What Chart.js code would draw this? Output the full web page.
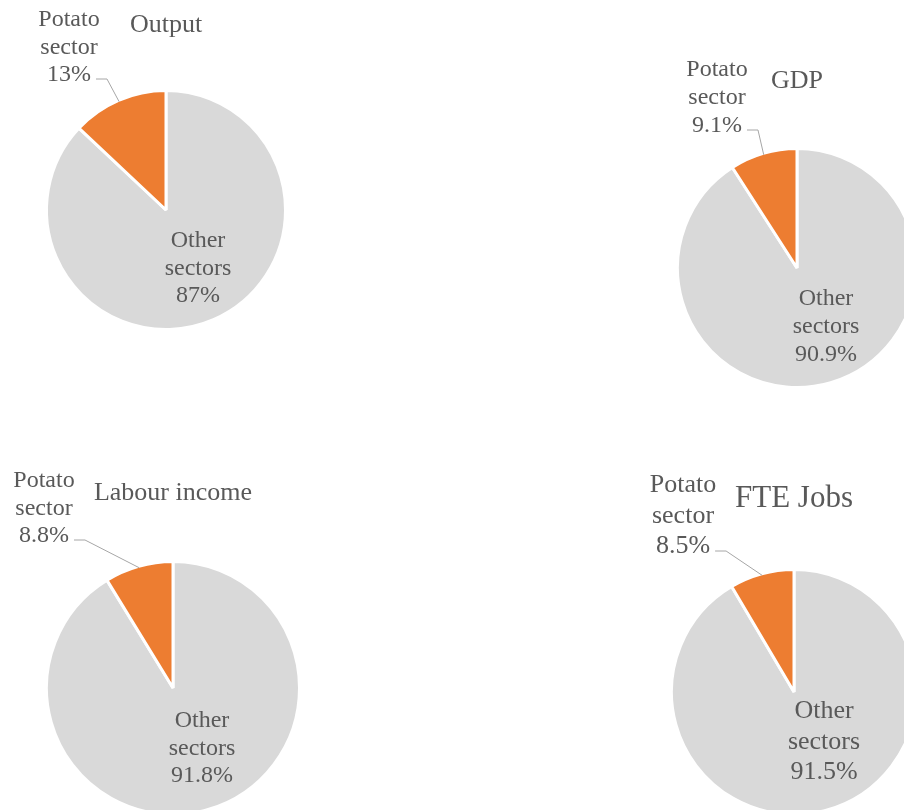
<!DOCTYPE html>
<html>
<head>
<meta charset="utf-8">
<script src="https://cdn.jsdelivr.net/npm/chart.js@4.4.0/dist/chart.umd.min.js"></script>
<style>
  html, body { margin: 0; padding: 0; background: #fff; overflow: hidden; }
  #page { position: relative; width: 904px; height: 810px; }
  canvas { position: absolute; }
</style>
</head>
<body>
<div id="page">
  <canvas id="c0" width="452" height="405" style="left:0;top:0"></canvas>
  <canvas id="c1" width="452" height="405" style="left:452px;top:0"></canvas>
  <canvas id="c2" width="452" height="405" style="left:0;top:405px"></canvas>
  <canvas id="c3" width="452" height="405" style="left:452px;top:405px"></canvas>
</div>
<script>
// data
var titles = ["Output", "GDP", "Labour income", "FTE Jobs"];
var categories = ["Other sectors", "Potato sector"];
var otherShare = [87, 90.9, 91.8, 91.5];
var potatoShare = [13, 9.1, 8.8, 8.5];

// where each pie sits inside its quadrant, and where its texts go (px)
var layouts = [
  { cx: 166, cy: 210, r: 118, titleDy: -178, pot: [-97, -184], oth: [32, 37], font: 24, titleFont: 26, lh: 27.5 },
  { cx: 345, cy: 268, r: 118, titleDy: -180, pot: [-80, -192], oth: [29, 37], font: 24, titleFont: 26, lh: 28 },
  { cx: 173, cy: 283, r: 125, titleDy: -188, pot: [-129, -201], oth: [29, 39], font: 24, titleFont: 26, lh: 27.5 },
  { cx: 342, cy: 287, r: 121, titleDy: -185, pot: [-111, -200], oth: [30, 26], font: 26, titleFont: 31, lh: 30.5 }
];

var W = 452, H = 405;
var textColor = "#595959";
var serif = "'Liberation Serif', 'Times New Roman', serif";

function multiLine(ctx, lines, x, y, lh) {
  lines.forEach(function (s, i) { ctx.fillText(s, x, y + i * lh); });
}

var pieLabels = {
  id: "pieLabels",
  afterDatasetsDraw: function (chart) {
    var lay = chart.options.plugins.pieLabels.layout;
    var idx = chart.options.plugins.pieLabels.index;
    var meta = chart.getDatasetMeta(0);
    var other = meta.data[0], potato = meta.data[1];
    var cx = other.x, cy = other.y, r = other.outerRadius - 1.5;
    var ctx = chart.ctx;
    ctx.save();
    ctx.fillStyle = textColor;
    ctx.textAlign = "center";
    ctx.textBaseline = "alphabetic";

    // title
    ctx.font = lay.titleFont + "px " + serif;
    ctx.fillText(titles[idx], cx, cy + lay.titleDy);

    ctx.font = lay.font + "px " + serif;
    // other sectors, inside the slice
    multiLine(ctx, ["Other", "sectors", otherShare[idx] + "%"], cx + lay.oth[0], cy + lay.oth[1], lay.lh);

    // potato sector, outside with leader line
    var px = cx + lay.pot[0], py = cy + lay.pot[1];
    var last = potatoShare[idx] + "%";
    multiLine(ctx, ["Potato", "sector", last], px, py, lay.lh);
    var lastY = py + 2 * lay.lh - 2;
    var sx = px + ctx.measureText(last).width / 2 + 5;
    var a = (potato.startAngle + potato.endAngle) / 2;
    ctx.strokeStyle = "#a6a6a6";
    ctx.lineWidth = 1;
    ctx.beginPath();
    ctx.moveTo(sx, lastY);
    ctx.lineTo(sx + 11, lastY);
    ctx.lineTo(cx + Math.cos(a) * r, cy + Math.sin(a) * r);
    ctx.stroke();
    ctx.restore();
  }
};

titles.forEach(function (t, i) {
  var lay = layouts[i];
  var h = Math.min(lay.cx, W - lay.cx, lay.cy, H - lay.cy);
  new Chart("c" + i, {
    type: "pie",
    data: {
      labels: categories,
      datasets: [{
        data: [otherShare[i], potatoShare[i]],
        backgroundColor: ["#d9d9d9", "#ed7d31"],
        borderColor: "#ffffff",
        borderWidth: 3,
        hoverOffset: 0,
        clip: false
      }]
    },
    options: {
      responsive: false,
      animation: false,
      radius: lay.r + 1.5,
      layout: {
        padding: { left: lay.cx - h, right: W - lay.cx - h, top: lay.cy - h, bottom: H - lay.cy - h }
      },
      plugins: {
        legend: { display: false },
        tooltip: { enabled: false },
        pieLabels: { layout: lay, index: i }
      }
    },
    plugins: [pieLabels]
  });
});
</script>
</body>
</html>
